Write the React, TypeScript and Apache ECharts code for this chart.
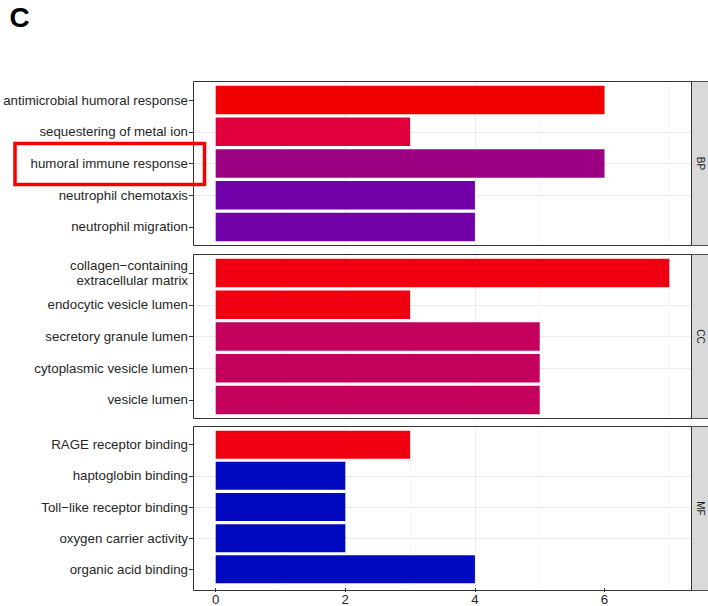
import React, { useEffect, useRef } from 'react';
import * as echarts from 'echarts';

// ---- data ----
const bpTerms = [
  'antimicrobial humoral response',
  'sequestering of metal ion',
  'humoral immune response',
  'neutrophil chemotaxis',
  'neutrophil migration',
];
const bpCounts = [6, 3, 6, 4, 4];

const ccTerms = [
  'collagen−containing\nextracellular matrix',
  'endocytic vesicle lumen',
  'secretory granule lumen',
  'cytoplasmic vesicle lumen',
  'vesicle lumen',
];
const ccCounts = [7, 3, 5, 5, 5];

const mfTerms = [
  'RAGE receptor binding',
  'haptoglobin binding',
  'Toll−like receptor binding',
  'oxygen carrier activity',
  'organic acid binding',
];
const mfCounts = [3, 2, 2, 2, 4];

const panelLabels = ['BP', 'CC', 'MF'];
const xTickValues = [0, 2, 4, 6];
const yTickValues = [1, 2, 3, 4, 5];

// ---- styles ----
const bpColors = ['#F00000', '#E2003C', '#9C0082', '#7000A8', '#7000A8'];
const ccColors = ['#EE0010', '#EE0010', '#C4005C', '#C4005C', '#C4005C'];
const mfColors = ['#EE0010', '#0008C0', '#0008C0', '#0008C0', '#0008C0'];

const FONT = "'Liberation Sans', Arial, Helvetica, sans-serif";
const TEXT_COLOR = '#262626';
const PANEL_LEFT = 193;
const PANEL_WIDTH = 499;
const PANEL_HEIGHT = 165;
const PANEL_TOPS = [81, 254, 426];

export default function App() {
  const ref = useRef<HTMLDivElement>(null);

  useEffect(() => {
    if (!ref.current) return;
    const chart = echarts.init(ref.current, null, { renderer: 'svg' });

    const panels = [
      { terms: bpTerms, counts: bpCounts, colors: bpColors },
      { terms: ccTerms, counts: ccCounts, colors: ccColors },
      { terms: mfTerms, counts: mfCounts, colors: mfColors },
    ];

    const grids: any[] = [];
    const xAxes: any[] = [];
    const yAxes: any[] = [];
    const series: any[] = [];
    const graphics: any[] = [];

    panels.forEach((p, i) => {
      const top = PANEL_TOPS[i];
      const isBottom = i === panels.length - 1;
      grids.push({
        left: PANEL_LEFT,
        top,
        width: PANEL_WIDTH,
        height: PANEL_HEIGHT,
        show: true,
        backgroundColor: '#FFFFFF',
        borderWidth: 0,
        containLabel: false,
      });
      xAxes.push({
        gridIndex: i,
        type: 'value',
        position: 'bottom',
        min: -0.35,
        max: 7.35,
        axisLine: { show: false, onZero: false },
        axisTick: {
          show: isBottom,
          length: 4,
          customValues: xTickValues,
          lineStyle: { color: '#333333', width: 1 },
        },
        axisLabel: {
          show: isBottom,
          customValues: xTickValues,
          color: TEXT_COLOR,
          fontSize: 13.3,
          fontFamily: FONT,
          margin: 5,
          formatter: (v: number) => (Number.isInteger(v) ? String(v) : ''),
        },
        splitLine: {
          show: true,
          showMinLine: false,
          showMaxLine: false,
          lineStyle: { color: '#EBEBEB', width: 1 },
        },
        minorTick: { show: false, splitNumber: 2 },
        minorSplitLine: { show: true, lineStyle: { color: '#F2F2F2', width: 0.7 } },
      });
      yAxes.push({
        gridIndex: i,
        type: 'value',
        position: 'left',
        inverse: true,
        min: 0.4,
        max: 5.6,
        axisLine: { show: false, onZero: false },
        axisTick: {
          show: true,
          length: 4,
          customValues: yTickValues,
          lineStyle: { color: '#333333', width: 1 },
        },
        axisLabel: {
          customValues: yTickValues,
          color: TEXT_COLOR,
          fontSize: 13.3,
          lineHeight: 15,
          fontFamily: FONT,
          margin: 5,
          align: 'right',
          formatter: (v: number) => {
            const k = Math.round(v);
            return Math.abs(v - k) < 1e-6 && k >= 1 && k <= p.terms.length ? p.terms[k - 1] : '';
          },
        },
        splitLine: {
          show: true,
          showMinLine: false,
          showMaxLine: false,
          lineStyle: { color: '#EBEBEB', width: 1 },
        },
      });
      const colors = p.colors;
      series.push({
        type: 'custom',
        xAxisIndex: i,
        yAxisIndex: i,
        data: p.counts.map((c, j) => [c, j + 1, j]),
        encode: { x: 0, y: 1 },
        renderItem: (params: any, api: any) => {
          const v = api.value(0);
          const c = api.value(1);
          const idx = api.value(2);
          const a = api.coord([0, c - 0.45]);
          const b = api.coord([v, c + 0.45]);
          const x = Math.min(a[0], b[0]);
          const y = Math.min(a[1], b[1]);
          return {
            type: 'rect',
            shape: { x, y, width: Math.abs(b[0] - a[0]), height: Math.abs(b[1] - a[1]) },
            style: { fill: colors[idx], stroke: null },
          };
        },
      });
      // panel border
      graphics.push({
        type: 'rect',
        z: 100,
        shape: { x: PANEL_LEFT + 0.5, y: top + 0.5, width: PANEL_WIDTH - 1, height: PANEL_HEIGHT - 1 },
        style: { fill: 'none', stroke: '#333333', lineWidth: 1 },
      });
      // strip
      graphics.push({
        type: 'rect',
        z: 99,
        shape: { x: PANEL_LEFT + PANEL_WIDTH - 0.5, y: top + 0.5, width: 18, height: PANEL_HEIGHT - 1 },
        style: { fill: '#D9D9D9', stroke: '#4D4D4D', lineWidth: 1 },
      });
      graphics.push({
        type: 'text',
        z: 101,
        x: PANEL_LEFT + PANEL_WIDTH + 8.5,
        y: top + PANEL_HEIGHT / 2,
        rotation: -Math.PI / 2,
        style: {
          text: panelLabels[i],
          fill: '#1A1A1A',
          fontSize: 10,
          fontFamily: FONT,
          align: 'center',
          verticalAlign: 'middle',
        },
      });
    });

    // panel tag
    graphics.push({
      type: 'text',
      z: 101,
      x: 9.5,
      y: 3,
      style: {
        text: 'C',
        fill: '#000000',
        fontSize: 28,
        fontWeight: 'bold',
        fontFamily: FONT,
        align: 'left',
        verticalAlign: 'top',
      },
    });
    // highlight box
    graphics.push({
      type: 'rect',
      z: 101,
      shape: { x: 15, y: 143.5, width: 189.5, height: 41 },
      style: { fill: 'none', stroke: '#F50000', lineWidth: 3.5 },
    });

    chart.setOption({
      animation: false,
      backgroundColor: '#FFFFFF',
      grid: grids,
      xAxis: xAxes,
      yAxis: yAxes,
      series,
      graphic: graphics,
    });

    return () => chart.dispose();
  }, []);

  return (
    <div
      ref={ref}
      style={{ position: 'fixed', left: 0, top: 0, width: 708, height: 606, background: '#fff' }}
    />
  );
}
